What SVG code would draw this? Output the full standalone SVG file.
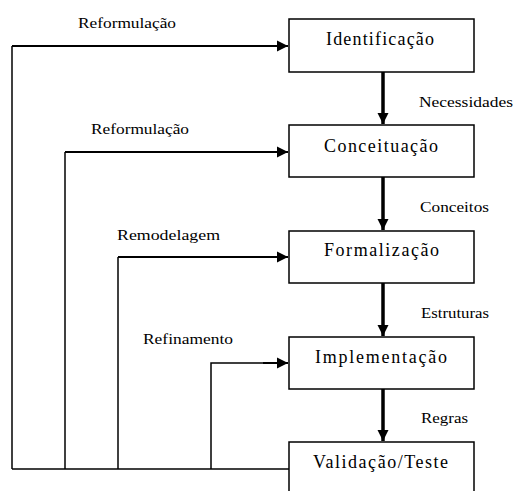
<svg xmlns="http://www.w3.org/2000/svg" width="514" height="491" viewBox="0 0 514 491">
  <defs>
    <style>
      .box { fill: #fff; stroke: #000; stroke-width: 1.5; }
      .bt { font-family: "Liberation Serif", "DejaVu Serif", "Times New Roman", Times, serif; font-size: 18px; fill: #000; }
      .lb { font-family: "Liberation Serif", "DejaVu Serif", "Times New Roman", Times, serif; font-size: 15px; fill: #000; }
      .fb { fill: none; stroke: #000; stroke-width: 2; }
      .fl { fill: none; stroke: #000; stroke-width: 1.5; }
      .dn { fill: none; stroke: #000; stroke-width: 3.5; }
    </style>
    <marker id="ah" markerUnits="userSpaceOnUse" markerWidth="12" markerHeight="12" refX="11" refY="6" orient="auto">
      <path d="M0,0.5 L11,6 L0,11.5 Z" fill="#000"/>
    </marker>
  </defs>
  <rect width="514" height="491" fill="#fff"/>
  <g id="connectors">
    <path class="dn" d="M383,72 V124" marker-end="url(#ah)"/>
    <path class="dn" d="M383,177 V230" marker-end="url(#ah)"/>
    <path class="dn" d="M383,283 V336" marker-end="url(#ah)"/>
    <path class="dn" d="M383,389 V441" marker-end="url(#ah)"/>
    <path class="fl" d="M289,469 H12"/>
    <path class="fl" d="M12,469 V46"/>
    <path class="fb" d="M12,46 H288" marker-end="url(#ah)"/>
    <path class="fl" d="M65,469 V152"/>
    <path class="fb" d="M65,152 H288" marker-end="url(#ah)"/>
    <path class="fl" d="M118,469 V257"/>
    <path class="fb" d="M118,257 H288" marker-end="url(#ah)"/>
    <path class="fl" d="M211,469 V363 H263"/>
    <path class="fb" d="M263,363 H288" stroke-width="2.5" marker-end="url(#ah)"/>
  </g>
  <g id="identificacao">
    <rect class="box" x="289" y="19" width="185" height="53"/>
    <text class="bt" font-family="Liberation Serif, serif" x="326" y="45" textLength="108" lengthAdjust="spacing">Identificação</text>
  </g>
  <g id="conceituacao">
    <rect class="box" x="289" y="125" width="185" height="52"/>
    <text class="bt" x="324" y="152" textLength="114" lengthAdjust="spacing">Conceituação</text>
  </g>
  <g id="formalizacao">
    <rect class="box" x="289" y="231" width="185" height="52"/>
    <text class="bt" x="324" y="256" textLength="115" lengthAdjust="spacing">Formalização</text>
  </g>
  <g id="implementacao">
    <rect class="box" x="289" y="337" width="185" height="52"/>
    <text class="bt" x="315" y="363" textLength="132" lengthAdjust="spacing">Implementação</text>
  </g>
  <g id="validacao">
    <rect class="box" x="289" y="442" width="185" height="60"/>
    <text class="bt" x="313" y="468" textLength="135" lengthAdjust="spacing">Validação/Teste</text>
  </g>
  <g id="labels">
    <text class="lb" x="78" y="28" textLength="98" lengthAdjust="spacingAndGlyphs">Reformulação</text>
    <text class="lb" x="91" y="134" textLength="98" lengthAdjust="spacingAndGlyphs">Reformulação</text>
    <text class="lb" x="117" y="240" textLength="103" lengthAdjust="spacingAndGlyphs">Remodelagem</text>
    <text class="lb" x="143" y="344" textLength="90" lengthAdjust="spacingAndGlyphs">Refinamento</text>
    <text class="lb" x="419" y="107" textLength="94" lengthAdjust="spacingAndGlyphs">Necessidades</text>
    <text class="lb" x="420" y="212" textLength="69" lengthAdjust="spacingAndGlyphs">Conceitos</text>
    <text class="lb" x="421" y="318" textLength="68" lengthAdjust="spacingAndGlyphs">Estruturas</text>
    <text class="lb" x="421" y="423" textLength="47" lengthAdjust="spacingAndGlyphs">Regras</text>
  </g>
</svg>
